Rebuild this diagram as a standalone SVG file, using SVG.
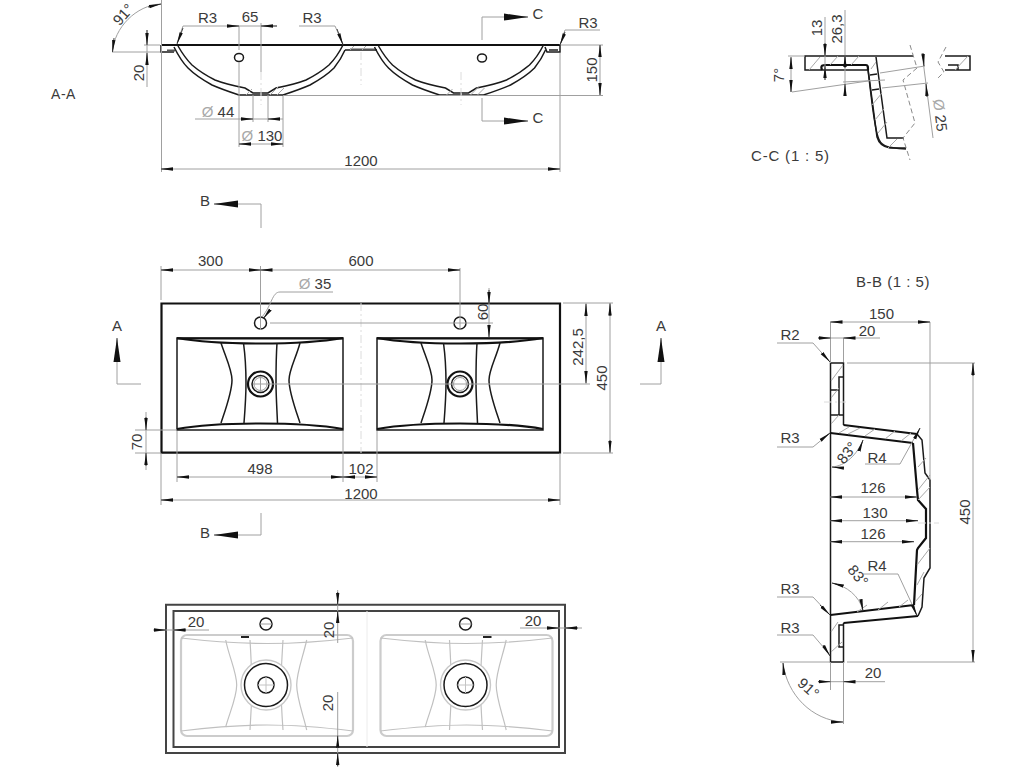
<svg xmlns="http://www.w3.org/2000/svg" xmlns:xlink="http://www.w3.org/1999/xlink" width="1024" height="768" viewBox="0 0 1024 768">
<style>
text{font-family:"Liberation Sans",Arial,sans-serif;font-size:15px;fill:#3a3a3a;text-anchor:middle}
.s{fill:none;stroke:#1a1a1a;stroke-width:1.5}
.t{fill:none;stroke:#111;stroke-width:2.2}
.d{fill:none;stroke:#a0a0a0;stroke-width:1}
.l{fill:none;stroke:#c4c4c4;stroke-width:1}
.c{fill:none;stroke:#dcdcdc;stroke-width:1;stroke-dasharray:8 3 2 3}
.h{fill:none;stroke:#a8a8a8;stroke-width:1}
.g{fill:none;stroke:#c0c0c0;stroke-width:1.2}
.gb{fill:none;stroke:#cccccc;stroke-width:2.2}
.dash{fill:none;stroke:#8a8a8a;stroke-width:1;stroke-dasharray:5 3}
.a{fill:none;stroke:#444;stroke-width:1;marker-end:url(#ah)}
.b{fill:none;stroke:#444;stroke-width:1;marker-end:url(#bh)}
.o{fill:#a8a8a8}
</style>
<defs>
<marker id="ah" markerUnits="userSpaceOnUse" markerWidth="13" markerHeight="6" refX="12" refY="2.5" orient="auto"><path d="M0,0.8 L12,2.5 L0,4.2 Z" fill="#111"/></marker>
<marker id="bh" markerUnits="userSpaceOnUse" markerWidth="25" markerHeight="10" refX="24" refY="4" orient="auto"><path d="M0,0.5 L24,4 L0,7.5 Z" fill="#111"/></marker>
<g id="bowl">
<path class="s" d="M174,47 C178,55 183,63 188,68 C195,75 203,80 212,85 C221,89 230,92 239,95 L283,95 C292,92 301,89 310,85 C319,80 327,75 334,68 C338,63 342,57 345,50"/>
<path class="s" d="M178,46 C182,53 187,60 192,65 C199,71 207,76 215,80 C225,84 235,86 245,88 L253,93 L268,93 L276,88 C286,86 296,84 306,80 C314,76 322,71 329,65 C334,60 339,53 343,45"/>
<path class="h" d="M246,95 L252,89 M270,95 L279,86 M277,95 L284,88 M261,93 V95"/>
</g>
<g id="basinTop">
<path class="s" d="M177,338 H343 V430 H177 Z"/>
<path class="t" d="M177,338 C205,343 235,343.500 260,343.500 C285,343.500 315,343 343,338"/>
<path class="t" d="M177,429 C205,424 235,423.500 260,423.500 C285,423.500 315,424 343,429"/>
<path class="s" d="M221,343 C226,358 232,370 232,380 C232,392 226,408 221,423 M243.500,343 C245.500,358 246,372 246,383 C246,396 245,410 244,423 M277,343 C276,358 276,372 276,383 C276,396 277,410 277.500,423 M300,343 C296,358 289,370 289,380 C289,392 295,408 300,423"/>
<path d="M177,337.500 H343 V339.500 H177 Z" fill="#111"/>
</g>
<g id="basinBottom">
<rect class="gb" x="181" y="635" width="172" height="101" rx="6"/>
<path class="g" d="M181,638 C215,642 245,643.500 267,643.500 C290,643.500 320,642 353,638 M181,731 C215,727 245,725 267,725 C290,725 320,727 353,731"/>
<path class="g" d="M225.700,640 C229,657 236.700,672 236.700,685 C236.700,698 229,714 225.700,727 M250,640 C251,656 251.700,672 251.700,685 C251.700,700 251,716 250,730 M283,640 C282,656 281,672 281,685 C281,700 282,716 283,730 M306.700,640 C303,657 296.700,672 296.700,685 C296.700,698 303,714 306.700,730"/>
<circle cx="266" cy="685" r="25" fill="#fff" stroke="#c8c8c8" stroke-width="1.400"/>
<circle class="s" cx="266" cy="685" r="21.500"/>
<circle class="s" cx="266" cy="685" r="8"/>
<path class="l" d="M258,685 H274 M266,677 V693"/>
<circle class="s" cx="266" cy="624" r="6"/>
<path class="d" d="M260,624 H272"/>
</g>
</defs>

<g id="view-a-a">
<path class="t" d="M161,45 H560"/>
<path class="s" d="M161,45 V52 H174 M560,45 V52 H547 L545,47 M345,50 H377"/>
<path d="M167,49.500 H175 V51.500 H167 Z M350,48.500 H375 V51 H350 Z M549,49 H558 V51.500 H549 Z" fill="#555"/>
<use href="#bowl" xlink:href="#bowl"/>
<use href="#bowl" xlink:href="#bowl" x="200.500"/>
<ellipse class="s" cx="239" cy="57.500" rx="4.500" ry="4"/>
<ellipse class="s" cx="482" cy="58" rx="4.500" ry="4"/>
<path class="h" d="M350,50 L354,46 M362,50 L366,46"/>
</g>

<g id="dims-a-a">
<path class="d" d="M161.500,0 V172 M560,53 V172 M112,52 H160 M144,45 H160 M283,95.500 H603 M561,45 H603 M239,62 V147 M283,96 V147 M253,95 V122 M268,95 V122 M239,26 V50 M261,23 V72 M482,40 V17 H505 M482,98 V121 H505 M195,119 H283 M239,144 H283 M228,26 H277 M147,30 V87 M600,45 V95 M161,169 H560"/>
<path class="c" d="M261,72 V105 M361,52 V85 M461,72 V105"/>
<path class="d" d="M112.500,52 C114,28 136,5 161,4"/>
<path class="d" d="M228,26 H183 L177,43 M299,26 H335 L343,44 M600,30 H565 L560,45"/>
<path class="a" d="M183,28 L177,44"/><path class="a" d="M337,29 L343,45"/><path class="a" d="M565,32 L560,45"/>
<path class="a" d="M114,38 L112.500,52"/><path class="a" d="M148,7 L161,4"/>
<path class="a" d="M147,30 V45"/><path class="a" d="M147,65 V53"/>
<path class="a" d="M228,26 H239"/><path class="a" d="M277,26 H261"/>
<path class="a" d="M600,57 V45"/><path class="a" d="M600,83 V95"/>
<path class="a" d="M241,119 H253"/><path class="a" d="M280,119 H268"/>
<path class="a" d="M251,144 H239"/><path class="a" d="M271,144 H283"/>
<path class="a" d="M173,169 H161"/><path class="a" d="M548,169 H560"/>
<path class="b" d="M505,17 H528"/><path class="b" d="M505,121 H528"/>
<text x="63.500" y="99" style="font-size:14px;letter-spacing:.5px">A-A</text>
<text x="207.500" y="23">R3</text><text x="250" y="22">65</text><text x="312" y="23">R3</text><text x="588" y="28">R3</text>
<text x="538" y="19">C</text><text x="538" y="123">C</text>
<text x="361" y="166">1200</text>
<text x="218" y="117"><tspan class="o">Ø</tspan> 44</text>
<text x="262" y="141"><tspan class="o">Ø</tspan> 130</text>
<text transform="translate(144,73) rotate(-90)">20</text>
<text transform="translate(597,70) rotate(-90)">150</text>
<text transform="translate(127,18) rotate(-48)">91°</text>
</g>

<g id="view-top">
<path class="t" d="M161.500,303.500 H560 V452.700 H161.500 Z"/>
<use href="#basinTop" xlink:href="#basinTop"/>
<use href="#basinTop" xlink:href="#basinTop" x="200"/>
<circle class="s" cx="260.500" cy="323" r="6"/><circle class="s" cx="460" cy="323" r="6"/>
<circle class="t" cx="260.500" cy="384" r="12.500"/><circle class="s" cx="260.500" cy="384" r="8.500"/><circle class="d" cx="260.500" cy="384" r="6.500"/>
<circle class="t" cx="460" cy="384" r="12.500"/><circle class="s" cx="460" cy="384" r="8.500"/><circle class="d" cx="460" cy="384" r="6.500"/>
</g>

<g id="dims-top">
<path class="c" d="M361,303 V453"/>
<path class="d" d="M161,266 V300 M260.500,266 V330 M460,268 V330 M161,270 H460 M270,323 H493 M260.500,376 V392 M253,384 H590 M563,303 H613 M563,453 H613 M135,430 H177 M135,453 H161 M177,431 V482 M343,431 V482 M377,431 V482 M161,453 V505 M560,453 V505 M161,500 H560 M177,477 H377 M586,303 V384 M610,303 V453 M489,288 V337 M146,412 V470"/>
<path class="d" d="M333,292 H280 C272,292 272,305 262,317"/>
<path class="a" d="M270,310 L263,319"/>
<path class="a" d="M173,270 H161"/><path class="a" d="M249,270 H260.500"/><path class="a" d="M272,270 H260.500"/><path class="a" d="M448,270 H460"/>
<path class="a" d="M489,290 V304"/><path class="a" d="M489,325 V337"/>
<path class="a" d="M586,316 V304"/><path class="a" d="M586,371 V383"/>
<path class="a" d="M610,316 V303.500"/><path class="a" d="M610,440 V452.500"/>
<path class="a" d="M146,417 V430"/><path class="a" d="M146,466 V453"/>
<path class="a" d="M189,477 H177"/><path class="a" d="M331,477 H343"/><path class="a" d="M355,477 H343"/><path class="a" d="M365,477 H377"/>
<path class="a" d="M173,500 H161"/><path class="a" d="M548,500 H560"/>
<path class="d" d="M261,228 V204 H238 M261,513 V535 H238 M141,384 H117 V360 M640,384 H661 V360"/>
<path class="b" d="M238,204 H214"/><path class="b" d="M238,535 H214"/><path class="b" d="M117,361 V338"/><path class="b" d="M661,361 V338"/>
<text x="205" y="206">B</text><text x="205" y="538">B</text><text x="117" y="331">A</text><text x="661" y="331">A</text>
<text x="210.500" y="266">300</text><text x="361" y="266">600</text>
<text x="315" y="289"><tspan class="o">Ø</tspan> 35</text>
<text x="260" y="474">498</text><text x="361" y="474">102</text><text x="361" y="499">1200</text>
<text transform="translate(488,312) rotate(-90)">60</text>
<text transform="translate(583,347) rotate(-90)">242,5</text>
<text transform="translate(607,378) rotate(-90)">450</text>
<text transform="translate(142,442) rotate(-90)">70</text>
</g>

<g id="view-bottom">
<path d="M166,604.700 H565 V753 H166 Z" fill="none" stroke="#444" stroke-width="2"/>
<path d="M173.500,611 H559 V747 H173.500 Z" fill="none" stroke="#444" stroke-width="2"/>
<use href="#basinBottom" xlink:href="#basinBottom"/>
<use href="#basinBottom" xlink:href="#basinBottom" x="199.500"/>
<path d="M241,636 H249 V638 H241 Z M483,636 H491.500 V638 H483 Z" fill="#222"/>
<path d="M367,611 V747" stroke="#ececec" fill="none"/>
</g>
<g id="dims-bottom">
<path class="d" d="M153,630 H209 M520,628 H582 M337.700,590 V643 M337.700,692 V767"/>
<path class="a" d="M154,630 H166"/><path class="a" d="M186,630 H173.500"/>
<path class="a" d="M547,628 H559"/><path class="a" d="M578,628 H565"/>
<path class="a" d="M337.700,592 V604.700"/><path class="a" d="M337.700,623 V611"/>
<path class="a" d="M337.700,747 V735.700"/><path class="a" d="M337.700,766 V753"/>
<text x="196" y="627">20</text><text x="533" y="626">20</text>
<text transform="translate(334,630) rotate(-90)">20</text>
<text transform="translate(333,703) rotate(-90)">20</text>
</g>

<g id="section-c-c">
<path class="s" d="M913,56 H805 V70 H868 C873,110 874,125 878,137 C880,145 885,148 906,149"/>
<path class="s" d="M876,57 L887,138 H904"/>
<path class="s" d="M868,69 L877,137 C879,144 883,147 890,148 H906"/>
<path class="t" d="M822,70 C820,65 823,65 826,65 H866 C868,65 868,67 868,70"/>
<path class="s" d="M945,56 H970 V70 H945 M948,65 H958 C958,65 958,67 958,70"/>
<path class="s" d="M870,75 L877,74 M872,90 L879,89"/>
<path class="h" d="M809,70 L820,57 M830,65 L838,56 M851,65 L859,56 M871,69 L876,62 M872,105 L882,93 M875,120 L884,109 M878,133 L887,122 M888,148 L897,139 M955,70 L968,56"/>
<path class="dash" d="M910,45 L917,68 L903,80 L915,123 L903,138 L910,160 M946,47 L938,62 L944,72 L936,80"/>
</g>
<g id="dims-c-c">
<path class="d" d="M825,17 V80 M845,10 V95 M791,58 V92 M788,56 H805 M792,92 L868,81 M880,73 L925,66 M882,88 L928,83 M922,53 L933,138 M843,82 L885,80"/>
<path class="a" d="M825,43 V56"/><path class="a" d="M825,80 V66"/>
<path class="a" d="M845,68 V55"/><path class="a" d="M845,96 V84"/>
<path class="a" d="M791,68 V57"/><path class="a" d="M791,80 V92"/>
<path class="a" d="M923,53 L924,66"/><path class="a" d="M927,97 L926,84"/>
<text transform="translate(822,28) rotate(-90)">13</text>
<text transform="translate(842,29) rotate(-90)">26,3</text>
<text transform="translate(784,75) rotate(-90)">7°</text>
<text transform="translate(935,116) rotate(83)"><tspan class="o">Ø</tspan> 25</text>
<text x="790.500" y="161" style="letter-spacing:.8px">C-C  (1 : 5)</text>
</g>

<g id="section-b-b">
<path class="s" d="M843.500,425 V363 H830.500 V662 H843.500 V623 M917,434 L922,440 L925,473 L930,480 V568 L924,578 L922,607 L918,616"/>
<path class="t" d="M843.500,425 L917,434 M830.500,433 L913,443 M830.500,615 L914,605 M843.500,623 L918,616"/>
<path class="t" d="M913,443 L917,490 L918,500 L926,509 V538 L918,548 L917,550 L914,605"/>
<path class="s" d="M844,377 H839 V415 H831 M831,390 H839 M844,415 H839 M843,625 H839 V647 H843"/>
<path class="h" d="M831,381 L843,365 M831,398 L839,388 M831,424 L839,415 M839,433 L849,427 M848,434 L860,428 M865,436 L875,429 M885,439 L895,431 M901,441 L911,433 M918,467 L926,458 M918,490 L930,475 M918,500 L930,487 M917,565 L930,548 M917,585 L924,572 M915,602 L922,594 M857,612 L867,605 M878,610 L888,602 M899,607 L908,600 M831,632 L838,622 M831,652 L842,642"/>
</g>
<g id="dims-b-b">
<path class="d" d="M830.500,322 V363 M930,322 V480 M843.500,338 V362 M830,322 H930 M818,338 H880 M847,363 H975 M847,662 H975 M973,363 V662 M780,662 H830 M830.500,662 V690 M843.500,662 V724 M818,681.700 H885 M830,497 H917 M830,520.700 H918 M830,541.700 H914"/>
<path class="c" d="M918,523 H939 M824,402 H846"/>
<path class="d" d="M777,343 H813 L830,362 M777,447 H813 L830,433 M865,464 H900 L920,428 M863,574 H898 L917,615 M777,597 H813 L830,615 M777,635 H813 L830,655"/>
<path class="d" d="M832,467 C845,466 857,455 863,440 M832,583 C847,586 859,596 863,610 M783,663 C787,695 812,720 843,722"/>
<path class="a" d="M822,353 L830,362"/><path class="a" d="M821,440 L830,433"/><path class="a" d="M915,438 L920,428"/><path class="a" d="M912,604 L917,616"/>
<path class="a" d="M820,605 L830,615"/><path class="a" d="M823,645 L830,656"/>
<path class="a" d="M843,468 L832,467"/><path class="a" d="M859,451 L863,440"/><path class="a" d="M843,586 L832,583"/><path class="a" d="M861,600 L863,611"/>
<path class="a" d="M784,675 L783,663"/><path class="a" d="M831,722 L843,722"/>
<path class="a" d="M842,322 H830.500"/><path class="a" d="M918,322 H930"/>
<path class="a" d="M818,338 H830.500"/><path class="a" d="M855,338 H843.500"/>
<path class="a" d="M842,497 H830"/><path class="a" d="M905,497 H917"/><path class="a" d="M842,520.700 H830"/><path class="a" d="M906,520.700 H918"/><path class="a" d="M842,541.700 H830"/><path class="a" d="M902,541.700 H914"/>
<path class="a" d="M973,376 V363"/><path class="a" d="M973,650 V662"/>
<path class="a" d="M818,681.700 H830.500"/><path class="a" d="M855,681.700 H843.500"/>
<text x="893" y="287" style="letter-spacing:.5px">B-B  (1 : 5)</text>
<text x="881.500" y="319">150</text><text x="867" y="336">20</text>
<text x="790" y="340">R2</text><text x="790" y="443">R3</text><text x="877" y="463">R4</text>
<text x="873" y="493">126</text><text x="875" y="518">130</text><text x="873" y="539">126</text>
<text x="877" y="571">R4</text><text x="790" y="594">R3</text><text x="790" y="633">R3</text><text x="873" y="678">20</text>
<text transform="translate(851,456) rotate(-52)">83°</text>
<text transform="translate(854,579) rotate(50)">83°</text>
<text transform="translate(805,692) rotate(42)">91°</text>
<text transform="translate(970,512) rotate(-90)">450</text>
</g>
</svg>
